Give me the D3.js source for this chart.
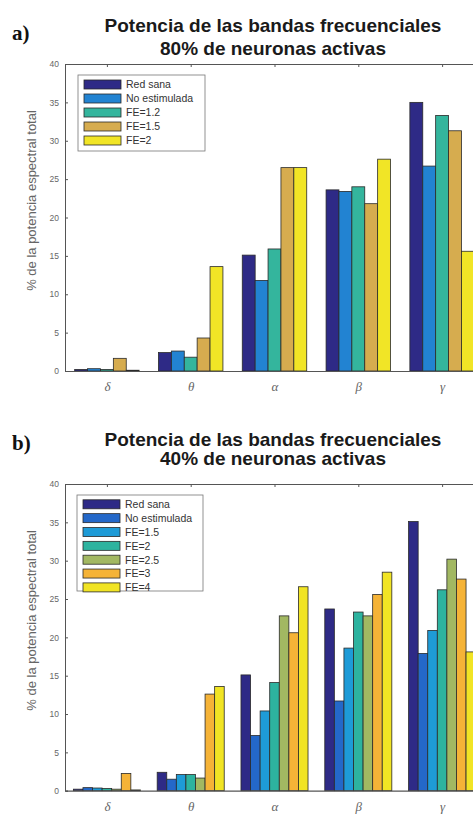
<!DOCTYPE html>
<html>
<head>
<meta charset="utf-8">
<script src="https://cdn.jsdelivr.net/npm/d3@7"></script>
<style>
  html, body { margin: 0; padding: 0; background: #fff; overflow: hidden; }
  svg { display: block; }
</style>
</head>
<body>
<svg id="chart" width="473" height="815"></svg>
<script>
// ---------- DATA ----------
const categories = ["δ", "θ", "α", "β", "γ"];
const yTicks = [0, 5, 10, 15, 20, 25, 30, 35, 40];
const yLabel = "% de la potencia espectral total";

// Panel a) 80% de neuronas activas
const titleA = ["Potencia de las bandas frecuenciales", "80% de neuronas activas"];
const seriesA = ["Red sana", "No estimulada", "FE=1.2", "FE=1.5", "FE=2"];
const redSanaA   = [0.2, 2.4, 15.1, 23.6, 35.0];
const noEstimA   = [0.3, 2.6, 11.8, 23.4, 26.7];
const fe12A      = [0.2, 1.8, 15.9, 24.0, 33.3];
const fe15A      = [1.65, 4.3, 26.5, 21.8, 31.3];
const fe2A       = [0.1, 13.6, 26.5, 27.6, 15.6];
const colorsA = ["#2e2a86", "#2283d2", "#34b59d", "#d6ac4f", "#f1e526"];

// Panel b) 40% de neuronas activas
const titleB = ["Potencia de las bandas frecuenciales", "40% de neuronas activas"];
const seriesB = ["Red sana", "No estimulada", "FE=1.5", "FE=2", "FE=2.5", "FE=3", "FE=4"];
const redSanaB   = [0.2, 2.4, 15.1, 23.7, 35.1];
const noEstimB   = [0.4, 1.5, 7.2, 11.7, 17.9];
const fe15B      = [0.35, 2.1, 10.4, 18.6, 20.9];
const fe2B       = [0.3, 2.1, 14.1, 23.3, 26.2];
const fe25B      = [0.2, 1.65, 22.8, 22.8, 30.2];
const fe3B       = [2.25, 12.6, 20.6, 25.6, 27.6];
const fe4B       = [0.1, 13.6, 26.6, 28.5, 18.1];
const colorsB = ["#2e2a86", "#2468c9", "#1e9bd7", "#2db39f", "#a2b862", "#f5b337", "#f1e424"];

// ---------- DRAW ----------
const svg = d3.select("#chart");
const axisColor = "#555";
const textColor = "#666";

function panel(cfg) {
  const g = svg.append("g");
  const x = d3.scaleLinear().domain([0.5, categories.length + 0.5]).range([cfg.left, cfg.right]);
  const y = d3.scaleLinear().domain([0, 40]).range([cfg.bottom, cfg.top]);
  const n = cfg.series.length;
  const groupW = Math.min(0.8, n / (n + 1.5));
  const unit = x(1) - x(0);
  const inner = d3.scaleBand().domain(cfg.series).range([-groupW * unit / 2, groupW * unit / 2]).padding(0);

  // panel letter
  svg.append("text").attr("x", 12).attr("y", cfg.letterY)
    .attr("font-family", "'Liberation Serif', 'Times New Roman', serif")
    .attr("font-weight", "bold").attr("font-size", 21).attr("fill", "#111")
    .text(cfg.letter);

  // title
  cfg.title.forEach((t, i) => {
    svg.append("text").attr("x", 273).attr("y", cfg.titleY[i])
      .attr("text-anchor", "middle")
      .attr("font-family", "'Liberation Sans', Arial, sans-serif")
      .attr("font-weight", "bold").attr("font-size", 19).attr("fill", "#1a1a1a")
      .text(t);
  });

  // bars
  cfg.series.forEach((s, si) => {
    g.append("g").selectAll("rect")
      .data(cfg.values[si])
      .join("rect")
      .attr("x", (d, ci) => x(ci + 1) + inner(s))
      .attr("width", inner.bandwidth())
      .attr("y", d => y(d))
      .attr("height", d => y(0) - y(d))
      .attr("fill", cfg.colors[si])
      .attr("stroke", "#2a2a2a")
      .attr("stroke-width", 0.8);
  });

  // axes box
  const yAxis = d3.axisLeft(y).tickValues(yTicks).tickSize(-3).tickPadding(6);
  const yg = g.append("g").attr("transform", `translate(${cfg.left},0)`).call(yAxis);
  yg.select(".domain").attr("stroke", axisColor);
  yg.selectAll(".tick line").attr("stroke", axisColor);
  yg.selectAll(".tick text").attr("fill", textColor)
    .attr("font-family", "'Liberation Sans', Arial, sans-serif").attr("font-size", 8.5);

  const xTop = d3.axisTop(x).tickValues(d3.range(1, categories.length + 1)).tickSize(-3).tickFormat("");
  const xt = g.append("g").attr("transform", `translate(0,${cfg.top})`).call(xTop);
  xt.select(".domain").attr("stroke", axisColor);
  xt.selectAll(".tick line").attr("stroke", axisColor);

  const xBot = d3.axisBottom(x).tickValues(d3.range(1, categories.length + 1))
    .tickSize(0).tickPadding(11).tickFormat(i => categories[i - 1]);
  const xb = g.append("g").attr("transform", `translate(0,${cfg.bottom})`).call(xBot);
  xb.select(".domain").attr("stroke", axisColor).attr("stroke-width", 1.2);
  xb.selectAll(".tick text").attr("fill", textColor)
    .attr("font-family", "'Liberation Serif', 'Times New Roman', serif")
    .attr("font-style", "italic").attr("font-size", 13);

  // y label
  svg.append("text")
    .attr("transform", `translate(${cfg.yLabelX},${(cfg.top + cfg.bottom) / 2 - 17}) rotate(-90)`)
    .attr("text-anchor", "middle")
    .attr("font-family", "'Liberation Sans', Arial, sans-serif")
    .attr("font-size", 13).attr("fill", textColor)
    .text(yLabel);

  // legend
  const lg = svg.append("g");
  lg.append("rect").attr("x", cfg.legend.x).attr("y", cfg.legend.y)
    .attr("width", cfg.legend.w).attr("height", cfg.legend.h)
    .attr("fill", "#fff").attr("stroke", "#777").attr("stroke-width", 0.8);
  const rowY = d3.scalePoint().domain(cfg.series)
    .range([cfg.legend.y + cfg.legend.first, cfg.legend.y + cfg.legend.first + cfg.legend.step * (n - 1)]);
  cfg.series.forEach((s, si) => {
    lg.append("rect").attr("x", cfg.legend.x + 6).attr("y", rowY(s) - 4.5)
      .attr("width", 37).attr("height", 9)
      .attr("fill", cfg.colors[si]).attr("stroke", "#2a2a2a").attr("stroke-width", 0.8);
    lg.append("text").attr("x", cfg.legend.x + 48).attr("y", rowY(s) + 3.8)
      .attr("font-family", "'Liberation Sans', Arial, sans-serif")
      .attr("font-size", 10.5).attr("fill", "#333").text(s);
  });
}

panel({
  letter: "a)", letterY: 40, title: titleA, titleY: [32, 55],
  left: 65, right: 484, top: 64, bottom: 371, yLabelX: 36,
  series: seriesA, colors: colorsA,
  values: [redSanaA, noEstimA, fe12A, fe15A, fe2A],
  legend: { x: 78, y: 75, w: 127, h: 76, first: 9.5, step: 14 }
});

panel({
  letter: "b)", letterY: 450, title: titleB, titleY: [446, 465],
  left: 65, right: 484, top: 484, bottom: 790.7, yLabelX: 36,
  series: seriesB, colors: colorsB,
  values: [redSanaB, noEstimB, fe15B, fe2B, fe25B, fe3B, fe4B],
  legend: { x: 77, y: 495, w: 126, h: 96, first: 9.3, step: 13.85 }
});
</script>
</body>
</html>
